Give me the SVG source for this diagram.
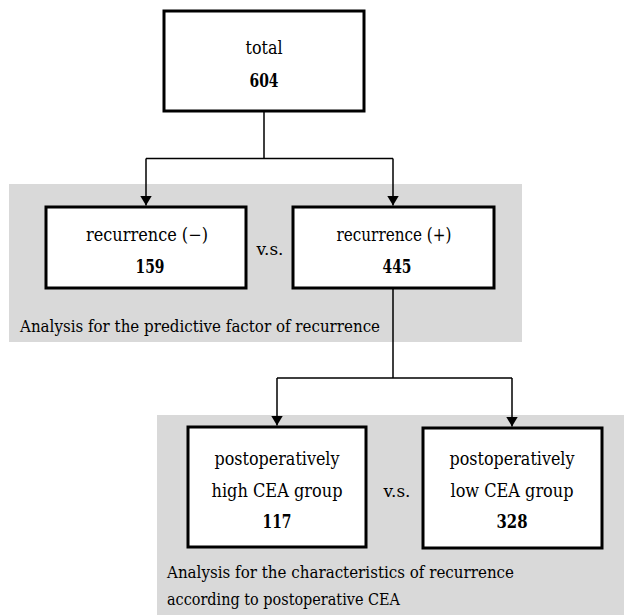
<svg xmlns="http://www.w3.org/2000/svg" width="624" height="615" viewBox="0 0 624 615">
<style>
.panel{fill:#d9d9d9;stroke:none}
.box{fill:#fff;stroke:#000;stroke-width:3}
.t{font-family:"DejaVu Serif",serif;font-size:18px;fill:#000;text-anchor:middle}
.b{font-weight:bold}
.lab{font-family:"DejaVu Serif",serif;font-size:17.5px;fill:#000}
.vs{font-family:"DejaVu Serif",serif;font-size:16px;fill:#000;text-anchor:middle}
.con{fill:none;stroke:#000;stroke-width:1.5}
</style>
<defs>
<marker id="ah" markerWidth="10" markerHeight="12" refX="10" refY="6" orient="auto" markerUnits="userSpaceOnUse">
<path d="M0,0 L10,6 L0,12 Z" fill="#000"/>
</marker>
</defs>
<rect width="624" height="615" fill="#fff"/>
<g id="panel1">
<rect class="panel" x="9" y="184" width="513" height="158"/>
<text class="lab" x="20" y="332" textLength="360" lengthAdjust="spacingAndGlyphs">Analysis for the predictive factor of recurrence</text>
</g>
<g id="panel2">
<rect class="panel" x="157" y="415" width="467" height="200"/>
<text class="lab" x="167" y="578" textLength="347" lengthAdjust="spacingAndGlyphs">Analysis for the characteristics of recurrence</text>
<text class="lab" x="167" y="605" textLength="233" lengthAdjust="spacingAndGlyphs">according to postoperative CEA</text>
</g>
<g id="connectors">
<path class="con" d="M264,111 V158.5 M146,158.5 H393"/>
<path class="con" d="M146,158.5 V205.5" marker-end="url(#ah)"/>
<path class="con" d="M393,158.5 V205.5" marker-end="url(#ah)"/>
<path class="con" d="M393,289 V378 M277,378 H512"/>
<path class="con" d="M277,378 V425.5" marker-end="url(#ah)"/>
<path class="con" d="M512,378 V426.5" marker-end="url(#ah)"/>
</g>
<g id="total">
<rect class="box" x="164" y="11" width="200" height="100"/>
<text class="t" x="264" y="54" textLength="37" lengthAdjust="spacingAndGlyphs">total</text>
<text class="t b" x="264" y="87" textLength="29" lengthAdjust="spacingAndGlyphs">604</text>
</g>
<g id="rec-neg">
<rect class="box" x="46" y="207" width="200" height="81"/>
<text class="t" x="147" y="241" textLength="122" lengthAdjust="spacingAndGlyphs">recurrence (−)</text>
<text class="t b" x="150" y="273" textLength="29" lengthAdjust="spacingAndGlyphs">159</text>
</g>
<text class="vs" x="270" y="255" textLength="27" lengthAdjust="spacingAndGlyphs">v.s.</text>
<g id="rec-pos">
<rect class="box" x="293" y="207" width="201" height="81"/>
<text class="t" x="394" y="241" textLength="115" lengthAdjust="spacingAndGlyphs">recurrence (+)</text>
<text class="t b" x="397" y="273" textLength="29" lengthAdjust="spacingAndGlyphs">445</text>
</g>
<g id="high">
<rect class="box" x="188" y="427" width="178" height="120"/>
<text class="t" x="277" y="465" textLength="125" lengthAdjust="spacingAndGlyphs">postoperatively</text>
<text class="t" x="277" y="497" textLength="131" lengthAdjust="spacingAndGlyphs">high CEA group</text>
<text class="t b" x="277" y="528" textLength="29" lengthAdjust="spacingAndGlyphs">117</text>
</g>
<text class="vs" x="397" y="497" textLength="27" lengthAdjust="spacingAndGlyphs">v.s.</text>
<g id="low">
<rect class="box" x="423" y="428" width="179" height="120"/>
<text class="t" x="512" y="465" textLength="125" lengthAdjust="spacingAndGlyphs">postoperatively</text>
<text class="t" x="512" y="497" textLength="123" lengthAdjust="spacingAndGlyphs">low CEA group</text>
<text class="t b" x="512" y="528" textLength="31" lengthAdjust="spacingAndGlyphs">328</text>
</g>
</svg>
